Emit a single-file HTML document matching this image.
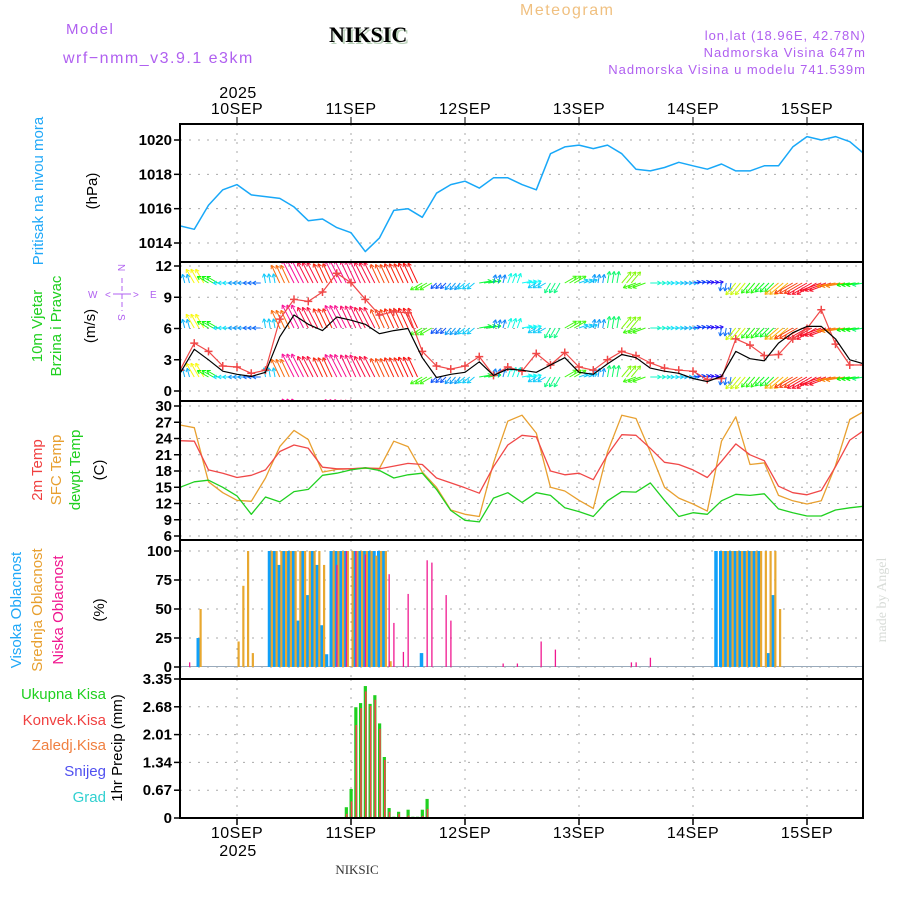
<!DOCTYPE html>
<html><head><meta charset="utf-8">
<style>
html,body{margin:0;padding:0;background:#fff;}
svg{display:block;font-family:"Liberation Sans",sans-serif;}
.tk{font-size:15px;font-weight:bold;fill:#000;text-anchor:end;}
.dt{font-size:16px;fill:#000;text-anchor:middle;letter-spacing:0.5px;}
</style></head>
<body>
<svg id="chart" width="900" height="900" viewBox="0 0 900 900">
  <text x="66" y="34" font-size="15" fill="#b060f0" letter-spacing="1.5">Model</text>
  <text x="63" y="63" font-size="16" fill="#b060f0" letter-spacing="1.5">wrf−nmm_v3.9.1 e3km</text>
  <text x="331" y="44" font-size="22" font-weight="bold" fill="#b8d0b8" font-family="Liberation Serif,serif">NIKSIC</text>
  <text x="329" y="42" font-size="22" font-weight="bold" fill="#000" font-family="Liberation Serif,serif">NIKSIC</text>
  <text x="520" y="15" font-size="16" fill="#f0c080" letter-spacing="1.5">Meteogram</text>
  <text x="866" y="40" font-size="13" fill="#b060f0" text-anchor="end" letter-spacing="1">lon,lat (18.96E, 42.78N)</text>
  <text x="866" y="57" font-size="13" fill="#b060f0" text-anchor="end" letter-spacing="1">Nadmorska Visina 647m</text>
  <text x="866" y="74" font-size="13" fill="#b060f0" text-anchor="end" letter-spacing="1">Nadmorska Visina u modelu 741.539m</text>
  <text class="dt" x="238" y="98">2025</text>
  <text class="dt" x="238" y="856">2025</text>
  <text x="357" y="874" font-size="13" text-anchor="middle" font-family="Liberation Serif,serif" fill="#333">NIKSIC</text>
  <text transform="translate(886,600) rotate(-90)" font-size="14" fill="#d8dcd8" text-anchor="middle" font-family="Liberation Serif,serif">made by Angel</text>

  <g font-size="15" text-anchor="middle">
    <text transform="translate(43,191) rotate(-90)" fill="#20a8f8">Pritisak na nivou mora</text>
    <text transform="translate(97,191) rotate(-90)" fill="#000">(hPa)</text>
    <text transform="translate(42,326) rotate(-90)" fill="#20d020">10m Vjetar</text>
    <text transform="translate(61,326) rotate(-90)" fill="#20d020">Brzina i Pravac</text>
    <text transform="translate(95,326) rotate(-90)" fill="#000">(m/s)</text>
    <text transform="translate(42,470) rotate(-90)" fill="#f04040">2m Temp</text>
    <text transform="translate(61,470) rotate(-90)" fill="#e8a030">SFC Temp</text>
    <text transform="translate(80,470) rotate(-90)" fill="#20d020">dewpt Temp</text>
    <text transform="translate(104,470) rotate(-90)" fill="#000">(C)</text>
    <text transform="translate(21,610) rotate(-90)" fill="#20a8f8">Visoka Oblacnost</text>
    <text transform="translate(42,610) rotate(-90)" fill="#e8a030">Srednja Oblacnost</text>
    <text transform="translate(63,610) rotate(-90)" fill="#f01890">Niska Oblacnost</text>
    <text transform="translate(104,610) rotate(-90)" fill="#000">(%)</text>
    <text transform="translate(122,748) rotate(-90)" fill="#000">1hr Precip (mm)</text>
  </g>
  <g font-size="15" text-anchor="end">
    <text x="106" y="699" fill="#20d020">Ukupna Kisa</text>
    <text x="106" y="725" fill="#f04040">Konvek.Kisa</text>
    <text x="106" y="750" fill="#f08040">Zaledj.Kisa</text>
    <text x="106" y="776" fill="#5050f0">Snijeg</text>
    <text x="106" y="802" fill="#30d0d0">Grad</text>
  </g>
  <g fill="#b060f0" font-size="10">
    <text x="88" y="298">W</text><text x="150" y="298">E</text>
    <text x="118" y="272" transform="rotate(90 122 268)">N</text>
    <text x="118" y="322" transform="rotate(90 122 318)">S</text>
    <text x="105" y="298">&lt;</text><text x="133" y="298">&gt;</text>
    <line x1="113" y1="294" x2="131" y2="294" stroke="#b060f0"/>
    <line x1="122" y1="278" x2="122" y2="311" stroke="#b060f0" stroke-dasharray="5,3"/>
  </g>
  <g id="plots"></g>
</svg>
<script>
// ---- data (3-hourly from 09SEP 12UTC, 49 points) ----
const dayLabels = ["10SEP","11SEP","12SEP","13SEP","14SEP","15SEP"];
const pressure = [1015.0,1014.8,1016.2,1017.1,1017.4,1016.8,1016.7,1016.6,1016.1,1015.3,1015.4,1014.9,1014.6,1013.5,1014.3,1015.9,1016.0,1015.5,1016.9,1017.4,1017.6,1017.2,1017.8,1017.8,1017.4,1017.1,1019.2,1019.6,1019.7,1019.5,1019.7,1019.2,1018.3,1018.2,1018.4,1018.7,1018.5,1018.3,1018.6,1018.2,1018.2,1018.5,1018.5,1019.6,1020.2,1020.0,1020.2,1019.9,1019.2];
const windSpeed = [1.7,4.0,3.0,1.9,1.6,1.4,1.8,5.2,7.3,6.4,5.8,7.1,6.8,6.4,5.5,5.8,6.0,3.2,1.3,1.6,1.8,2.8,1.5,2.1,2.0,1.8,2.5,3.2,1.8,1.6,2.6,3.5,3.2,2.2,1.9,1.7,1.2,0.9,1.4,3.8,3.1,2.9,4.6,5.6,6.2,6.2,5.0,3.0,2.6];
const windGust = [2.0,4.6,3.8,2.4,2.3,1.7,2.0,6.9,8.8,8.6,9.5,11.3,10.4,8.8,7.3,7.6,7.5,3.8,2.4,2.1,2.4,3.3,1.5,2.3,1.9,3.6,2.5,3.7,2.3,2.0,3.0,3.8,3.4,2.7,2.2,2.0,1.9,1.1,1.2,5.0,4.4,3.4,3.5,5.0,6.0,7.8,4.5,2.5,2.5];
const windDir = [345,330,300,270,270,270,350,335,333,333,335,333,335,333,335,335,335,240,225,220,230,80,15,20,80,240,210,60,70,10,10,40,250,90,90,90,80,80,190,220,220,225,230,240,240,250,260,260,260];
const temp2m = [23.6,23.5,18.2,17.6,16.8,17.2,18.2,21.6,22.8,22.2,18.7,18.4,18.4,18.6,18.4,18.9,19.4,19.2,16.7,15.8,14.9,13.9,18.8,22.8,24.6,24.3,18.0,17.3,17.6,16.4,21.0,24.7,24.6,22.2,19.6,19.2,18.2,16.8,19.8,23.0,21.0,19.9,15.2,14.0,13.6,14.4,18.8,23.7,25.5];
const tempSfc = [26.5,26.0,16.0,14.0,12.6,12.4,16.7,22.5,25.5,23.8,17.8,18.3,18.4,18.5,18.5,23.5,22.5,17.8,15.0,10.8,10.0,9.6,19.5,27.2,28.3,25.0,15.0,14.3,12.6,11.1,21.5,28.3,27.7,21.5,15.0,13.0,11.9,10.6,23.5,28.0,19.2,19.5,13.5,12.5,11.9,12.5,19.0,27.5,29.0];
const dewpt = [15.0,16.0,16.3,15.0,13.4,10.0,13.2,12.3,14.2,14.6,17.2,17.6,18.2,18.6,18.1,16.7,17.3,17.6,14.6,10.7,8.9,8.6,13.0,14.0,12.2,14.0,13.5,11.2,10.5,9.6,12.5,14.2,14.1,15.8,12.6,9.6,10.3,10.0,12.5,13.7,13.5,13.8,11.0,10.3,9.7,9.7,10.8,11.2,11.5];
// cloud cover, hourly bars (hour index, %)
const cloudHighHours = [4,19,20,21,22,23,24,25,26,27,28,29,30,31,32,33,34,35,37,38,39,40,41,42,43,51,113,114,115,116,117,118,119,120,121,122,124,125];
const cloudHighVals  = [25,100,100,88,100,100,100,40,100,62,100,88,36,11,100,100,100,100,100,100,100,100,100,100,100,12,100,100,100,100,100,100,100,100,100,100,12,62];
const cloudMidHours = [4,12,13,14,15,19,20,21,22,23,24,25,26,27,28,29,30,32,33,34,35,36,37,38,39,40,41,42,43,44,114,115,116,117,118,119,120,121,122,123,124,125,126];
const cloudMidVals  = [50,22,70,100,12,100,100,100,100,100,100,100,100,100,100,100,88,100,100,100,100,100,100,100,100,100,96,100,100,5,100,100,100,100,100,100,100,100,100,100,100,100,50];
const cloudLowHours = [2,33,35,37,39,44,45,47,48,52,53,56,57,68,71,76,79,95,96,99];
const cloudLowVals  = [4,88,100,100,97,80,38,13,63,92,90,62,40,3,3,22,15,4,4,8];
// precipitation, hourly (hour index, mm)
const precipHours = [4,35,36,37,38,39,40,41,42,43,44,45,46,47,48,49,50,51,52,54,77];
const precipTotal = [0.02,0.26,0.7,2.67,2.77,3.18,2.75,2.96,2.28,1.47,0.24,0.03,0.15,0.02,0.2,0.03,0.03,0.2,0.46,0.02,0.02];
const precipConv  = [0.0,0.1,0.4,2.24,2.65,3.05,2.7,2.85,2.15,1.4,0.15,0.0,0.1,0.0,0.06,0.0,0.0,0.05,0.22,0.0,0.0];
const pTicks = [1014,1016,1018,1020];
const wTicks = [0,3,6,9,12];
const tTicks = [6,9,12,15,18,21,24,27,30];
const cTicks = [0,25,50,75,100];
const rTicks = ["0","0.67","1.34","2.01","2.68","3.35"];

const NS="http://www.w3.org/2000/svg";
const root=document.getElementById('plots');
const X0=180, X1=863, PXH=4.75;
function xH(h){return X0+h*PXH;}
function el(tag,attrs,parent){const e=document.createElementNS(NS,tag);for(const k in attrs)e.setAttribute(k,attrs[k]);(parent||root).appendChild(e);return e;}
function lin(d0,d1,r0,r1){return v=>r0+(v-d0)*(r1-r0)/(d1-d0);}

const panels=[
 {name:'pressure',top:124,bot:262,y:lin(1020,1014,140,243),ticks:pTicks},
 {name:'wind',top:262,bot:401,y:lin(0,12,391,266),ticks:wTicks},
 {name:'temp',top:401,bot:540,y:lin(6,30,536,406),ticks:tTicks},
 {name:'cloud',top:540,bot:679,y:lin(0,100,667,551),ticks:cTicks},
 {name:'precip',top:679,bot:818,y:lin(0,3.35,818,679),ticks:rTicks.map(Number),labels:rTicks}
];
const clipDefs=el('defs',{});
panels.forEach((p,pi)=>{
  const g=el('g',{});
  
  
  const cp=el('clipPath',{id:'clip'+pi},clipDefs);
  el('rect',{x:X0,y:p.top,width:X1-X0,height:p.bot-p.top},cp);
  p.g=g;
  p.ticks.forEach((t,i)=>{
    const yy=p.y(t);
    if(yy>p.top+2&&yy<p.bot-2){
      const gl=el('line',{x1:X0,x2:X1,y1:yy,y2:yy,stroke:'#aaa','stroke-dasharray':'2,7'},g);
      
      
    }
    el('line',{x1:X0-6,x2:X0,y1:yy,y2:yy,stroke:'#000','stroke-width':1.5},g);
    const tx=el('text',{x:X0-8,y:yy+5,class:'tk'},g);
    tx.textContent=p.labels?p.labels[i]:String(t);
    
    
  });
  dayLabels.forEach((d,i)=>{
    const xx=xH(12+24*i);
    el('line',{x1:xx,x2:xx,y1:p.top,y2:p.bot,stroke:'#aaa','stroke-dasharray':'2,7'},g);
  });
  p.clip=el('g',{'clip-path':'url(#clip'+pi+')'},g);
});
dayLabels.forEach((d,i)=>{
  const xx=xH(12+24*i);
  const t1=el('text',{x:xx,y:114,class:'dt'});t1.textContent=d;
  
  
  const t2=el('text',{x:xx,y:838,class:'dt'});t2.textContent=d;
  
  
  el('line',{x1:xx,x2:xx,y1:117,y2:124,stroke:'#000'});
  el('line',{x1:xx,x2:xx,y1:818,y2:825,stroke:'#000','stroke-width':1.5});
});
function line(p,arr,color,name,w){
  const pts=arr.map((v,i)=>xH(i*3).toFixed(1)+','+p.y(v).toFixed(1)).join(' ');
  const l=el('polyline',{points:pts,fill:'none',stroke:color,'stroke-width':w||1.3,'stroke-linejoin':'round'},p.clip);
  
  
}
line(panels[0],pressure,'#18a8f8','pressure-line',1.5);
// wind arrows: colour by speed (purple -> blue -> cyan -> green -> yellow -> orange -> red -> pink)
function spdColor(s){
  let h = s<=4 ? 300 - s*60 : 60 - (s-4)*30;
  h=Math.max(-35,Math.min(270,h));
  if(h<0)h+=360;
  return 'hsl('+h+',95%,52%)';
}
const wp=panels[1];
[283,328,377,422].forEach((base,ri)=>{
  windSpeed.forEach((s,i)=>{
    for(let k=0;k<3;k++){
      const h=i*3+k; if(h>144)continue;
      const x=xH(h), a=windDir[i]*Math.PI/180, L=4+s*3.0;
      const dx=Math.sin(a)*L, dy=-Math.cos(a)*L;
      const c=spdColor(s);
      const ar=el('g',{stroke:c,'stroke-width':1,fill:'none'},wp.clip);
      
      
      el('line',{x1:x,y1:base,x2:x+dx,y2:base+dy},ar);
      const ang=Math.atan2(dy,dx);
      [2.6,-2.6].forEach(o=>el('line',{x1:x+dx,y1:base+dy,x2:x+dx-4*Math.cos(ang+o*0.2),y2:base+dy-4*Math.sin(ang+o*0.2)},ar));
    }
  });
});
line(wp,windGust,'#f04848','wind-gust-line',1.2);
windGust.forEach((v,i)=>{
  const x=xH(i*3),y=wp.y(v);
  const c=el('path',{d:`M${x-4},${y}H${x+4}M${x},${y-4}V${y+4}`,stroke:'#f04848','stroke-width':1.5},wp.clip);
  
  
});
line(wp,windSpeed,'#000','wind-speed-line',1.2);
const tp=panels[2];
line(tp,tempSfc,'#e8a030','sfc-temp-line');
line(tp,temp2m,'#f04848','t2m-line');
line(tp,dewpt,'#20d020','dewpt-line');
const cp=panels[3];
function bars(p,hours,vals,color,off,w,name){
  hours.forEach((h,i)=>{
    const y=p.y(vals[i]),y0=p.y(0);
    const r=el('rect',{x:xH(h)+off,y:Math.min(y,y0-1),width:w,height:Math.max(1,y0-y),fill:color},p.clip);
    
    
  });
}
el('line',{x1:X0,x2:X1,y1:666.5,y2:666.5,stroke:'#9ab'},cp.clip);
bars(cp,cloudHighHours,cloudHighVals,'#10a0f8',-2.5,3.5,'high-cloud-bar');
bars(cp,cloudMidHours,cloudMidVals,'#e8a830',0.5,2.2,'mid-cloud-bar');
bars(cp,cloudLowHours,cloudLowVals,'#f01890',-0.5,1.3,'low-cloud-bar');
const rp=panels[4];
bars(rp,precipHours,precipTotal,'#20d020',-1.5,3.2,'total-precip-bar');
bars(rp,precipHours,precipConv,'#f04848',-0.3,1.6,'convective-precip-bar');
panels.forEach(p=>{
  const f=el('rect',{x:X0,y:p.top,width:X1-X0,height:p.bot-p.top,fill:'none',stroke:'#000','stroke-width':2});
  
  
});
</script>
</body></html>
